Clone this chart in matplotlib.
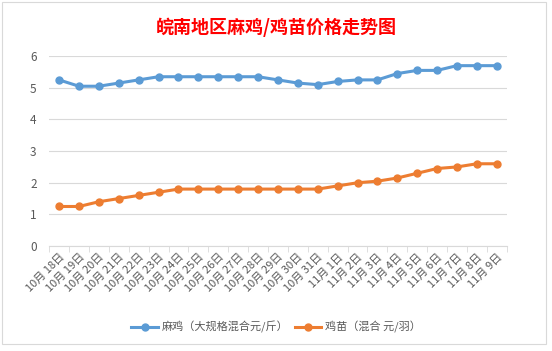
import matplotlib
matplotlib.use("Agg")
import matplotlib.pyplot as plt
from matplotlib.patches import Rectangle

plt.rcParams["font.family"] = ["Noto Sans CJK SC", "DejaVu Sans"]

dates = ["10月 18日", "10月 19日", "10月 20日", "10月 21日", "10月 22日", "10月 23日",
         "10月 24日", "10月 25日", "10月 26日", "10月 27日", "10月 28日", "10月 29日",
         "10月 30日", "10月 31日", "11月 1日", "11月 2日", "11月 3日", "11月 4日",
         "11月 5日", "11月 6日", "11月 7日", "11月 8日", "11月 9日"]
chicken = [5.25, 5.05, 5.05, 5.15, 5.25, 5.35, 5.35, 5.35, 5.35, 5.35, 5.35, 5.25,
           5.15, 5.1, 5.2, 5.25, 5.25, 5.45, 5.55, 5.55, 5.7, 5.7, 5.7]
chick = [1.25, 1.25, 1.4, 1.5, 1.6, 1.7, 1.8, 1.8, 1.8, 1.8, 1.8, 1.8,
         1.8, 1.8, 1.9, 2.0, 2.05, 2.15, 2.3, 2.45, 2.5, 2.6, 2.6]

fig = plt.figure(figsize=(5.52, 3.51), dpi=100, facecolor="white")
ax = fig.add_axes([0.089, 0.299, 0.829, 0.541])

x = list(range(len(dates)))
ax.plot(x, chicken, color="#5B9BD5", linewidth=2.2, marker="o", markersize=5,
        label="麻鸡（大规格混合元/斤）")
ax.plot(x, chick, color="#ED7D31", linewidth=2.2, marker="o", markersize=5,
        label="鸡苗（混合 元/羽）")

ax.set_xlim(-0.5, len(dates) - 0.5)
ax.set_ylim(0, 6)
ax.set_yticks(range(0, 7))
ax.grid(axis="y", color="#D9D9D9", linewidth=0.8)
ax.set_axisbelow(True)

ax.set_xticks([i - 0.5 for i in range(len(dates) + 1)], minor=True)
ax.set_xticks(x)
ax.set_xticklabels(dates, rotation=45, ha="right", rotation_mode="anchor",
                   fontsize=8, color="#595959")
ax.tick_params(axis="x", which="major", length=0, pad=4)
ax.tick_params(axis="x", which="minor", length=4, color="#D9D9D9")
ax.tick_params(axis="y", length=0, labelsize=8.5, labelcolor="#595959", pad=9)

for s in ["top", "right", "left"]:
    ax.spines[s].set_visible(False)
ax.spines["bottom"].set_color("#D9D9D9")

fig.text(0.5, 0.922, "皖南地区麻鸡/鸡苗价格走势图", ha="center", va="center",
         fontsize=13, color="#FF0000", fontweight="bold")

fig.legend(loc="center", bbox_to_anchor=(0.5, 0.068), ncol=2, frameon=False,
           fontsize=8, labelcolor="#595959", handlelength=2.4, columnspacing=0.6,
           handletextpad=0.3)

fig.patches.append(Rectangle((0.004, 0.02), 0.985, 0.975, transform=fig.transFigure,
                             fill=False, edgecolor="#D9D9D9", linewidth=0.8))

fig.savefig("out.png", dpi=100, facecolor="white")
